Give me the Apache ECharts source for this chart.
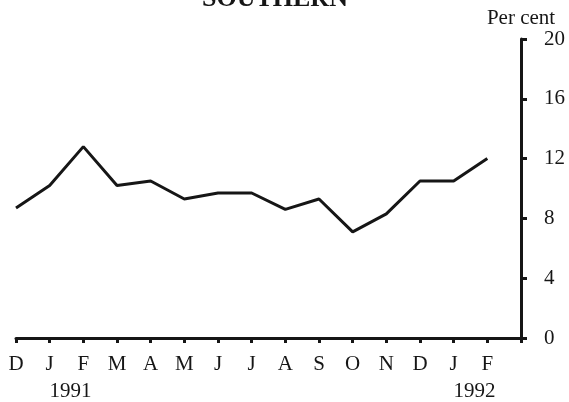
<!DOCTYPE html>
<html>
<head>
<meta charset="utf-8">
<script src="https://cdn.jsdelivr.net/npm/echarts@6/dist/echarts.min.js"></script>
<style>
  html, body { margin: 0; padding: 0; background: #fff; }
  #chart { width: 569px; height: 402px; }
</style>
</head>
<body>
<div id="chart"></div>
<script>
// months Dec 1990 .. Feb 1992, plus one empty slot up to the axis
const months = ['D', 'J', 'F', 'M', 'A', 'M', 'J', 'J', 'A', 'S', 'O', 'N', 'D', 'J', 'F', '']
const values = [8.7, 10.2, 12.8, 10.2, 10.5, 9.3, 9.7, 9.7, 8.6, 9.3, 7.1, 8.3, 10.5, 10.5, 12.0]
const years = [{text: '1991', from: 1, to: 2}, {text: '1992', from: 13, to: 14}]
const yTicks = [0, 4, 8, 12, 16, 20]

const font = '"Liberation Serif", "Times New Roman", serif'
const ink = '#161616'

let chart = echarts.init(document.getElementById('chart'))

let option = {
  backgroundColor: '#fff',
  animation: false,
  title: {
    text: 'SOUTHERN',
    left: 197,
    top: -19,
    textStyle: {fontFamily: font, fontSize: 26, fontWeight: 'bold', color: ink}
  },
  grid: {left: 16, right: 48, top: 39, bottom: 64},
  xAxis: {
    type: 'category',
    data: months,
    boundaryGap: false,
    axisLine: {lineStyle: {color: ink, width: 3}},
    axisTick: {show: true, length: 5, lineStyle: {color: ink, width: 3}},
    axisLabel: {fontFamily: font, fontSize: 21, color: ink, margin: 16, interval: 0}
  },
  yAxis: {
    type: 'value',
    position: 'right',
    min: yTicks[0],
    max: yTicks[yTicks.length - 1],
    interval: 4,
    name: 'Per cent',
    nameGap: 10,
    nameTextStyle: {fontFamily: font, fontSize: 21, color: ink, align: 'center'},
    splitLine: {show: false},
    axisLine: {show: true, lineStyle: {color: ink, width: 3}},
    axisTick: {show: true, length: 6, lineStyle: {color: ink, width: 3}},
    axisLabel: {fontFamily: font, fontSize: 21, color: ink, margin: 23}
  },
  series: [{
    type: 'line',
    data: values,
    symbol: 'none',
    lineStyle: {color: ink, width: 3}
  }]
}
chart.setOption(option)

// year labels sit between two month ticks, below the month row
let yearText = years.map(y => {
  let a = chart.convertToPixel({xAxisIndex: 0}, y.from)
  let b = chart.convertToPixel({xAxisIndex: 0}, y.to)
  return {
    type: 'text',
    x: (a + b) / 2 + 4,
    y: 391,
    style: {text: y.text, font: '21px ' + font, fill: ink, textAlign: 'center', textVerticalAlign: 'middle'}
  }
})
chart.setOption({graphic: yearText})
</script>
</body>
</html>
